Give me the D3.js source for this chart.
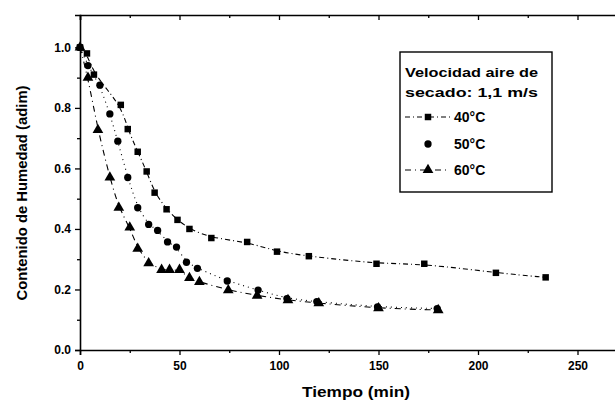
<!DOCTYPE html>
<html><head><meta charset="utf-8">
<script src="https://cdn.jsdelivr.net/npm/d3@7"></script>
<style>
html,body{margin:0;padding:0;background:#fff;}
svg{display:block;font-family:"Liberation Sans",Arial,sans-serif;}
</style></head>
<body>
<script>
// ---- data ----
const t40 = [0, 3.5, 7, 20.5, 24, 29, 33.5, 37.5, 43.5, 49, 55, 66, 84, 99, 115, 149, 173, 209, 234];
const v40 = [1.0, 0.98, 0.91, 0.81, 0.73, 0.655, 0.59, 0.52, 0.465, 0.43, 0.40, 0.37, 0.357, 0.325, 0.31, 0.285, 0.285, 0.255, 0.24];
const t50 = [0, 4, 10, 15, 19, 24, 29, 34.5, 39, 44, 48.5, 53.5, 59, 74, 89.5, 104, 119, 149.5, 179.5];
const v50 = [1.0, 0.94, 0.875, 0.78, 0.69, 0.57, 0.47, 0.415, 0.395, 0.357, 0.34, 0.29, 0.27, 0.228, 0.198, 0.17, 0.16, 0.142, 0.137];
const t60 = [0, 4, 9, 15, 19.5, 25, 29, 34.5, 41, 45, 50, 55, 60, 74.5, 89, 104.5, 120, 150, 180];
const v60 = [1.0, 0.90, 0.727, 0.57, 0.47, 0.405, 0.335, 0.287, 0.265, 0.265, 0.265, 0.238, 0.225, 0.198, 0.18, 0.165, 0.155, 0.138, 0.132];
const seriesNames = ["40°C", "50°C", "60°C"];
const xTicks = [0, 50, 100, 150, 200, 250];
const yTicks = [0.0, 0.2, 0.4, 0.6, 0.8, 1.0];
const xLabel = "Tiempo (min)";
const yLabel = "Contenido de Humedad (adim)";
const legendTitle = ["Velocidad aire de", "secado: 1,1 m/s"];

const W = 615, H = 403;
const svg = d3.select("body").append("svg").attr("width", W).attr("height", H);

const x = d3.scaleLinear().domain([0, 275]).range([80, 80 + 275 * 1.99]);
const y = d3.scaleLinear().domain([0, 1.107]).range([350, 15]);

const series = [
  {name: seriesNames[0], t: t40, v: v40, sym: d3.symbolSquare, size: 42, dash: "5,3,1,3"},
  {name: seriesNames[1], t: t50, v: v50, sym: d3.symbolCircle, size: 42, dash: "1,4"},
  {name: seriesNames[2], t: t60, v: v60, sym: d3.symbolTriangle, size: 50, dash: "6,4,1,4"}
];

// axes
const ax = svg.append("g").attr("stroke", "#000").attr("fill", "none");
// bottom axis
const bottom = svg.append("g").attr("transform", "translate(0,350)")
  .call(d3.axisBottom(x).tickValues(xTicks).tickSize(5).tickPadding(6).tickFormat(d3.format("d")));
svg.append("g").attr("transform", "translate(0,350)")
  .call(d3.axisBottom(x).tickValues([25, 75, 125, 175, 225, 275]).tickSize(3).tickFormat(""))
  .select(".domain").remove();
// top axis (ticks inward)
svg.append("g").attr("transform", "translate(0,15)")
  .call(d3.axisTop(x).tickValues(xTicks).tickSize(-5).tickFormat(""));
svg.append("g").attr("transform", "translate(0,15)")
  .call(d3.axisTop(x).tickValues([25, 75, 125, 175, 225, 275]).tickSize(-3).tickFormat(""))
  .select(".domain").remove();
// left axis
svg.append("g").attr("transform", "translate(80,0)")
  .call(d3.axisLeft(y).tickValues(yTicks).tickSize(5).tickPadding(4).tickFormat(d3.format(".1f")));
svg.append("g").attr("transform", "translate(80,0)")
  .call(d3.axisLeft(y).tickValues([0.1, 0.3, 0.5, 0.7, 0.9]).tickSize(3).tickFormat(""))
  .select(".domain").remove();

svg.selectAll(".domain").attr("stroke-width", 1.6).attr("d", function(){ return d3.select(this).attr("d").replace(/V-?\d+(\.\d+)?/g, m => m); });
svg.selectAll(".tick line").attr("stroke-width", 1.3);
svg.selectAll(".tick text").attr("font-size", 12).attr("font-weight", "bold").attr("fill", "#000")
  .attr("font-family", "'Liberation Sans Narrow','Liberation Sans',Arial,sans-serif");

// lines
const line = d3.line().x(d => x(d[0])).y(d => y(d[1])).curve(d3.curveBasis);
series.forEach(s => {
  const pts = s.t.map((t, i) => [t, s.v[i]]);
  svg.append("path").datum(pts).attr("d", line)
    .attr("fill", "none").attr("stroke", "#000").attr("stroke-width", 1.1)
    .attr("stroke-dasharray", s.dash);
});
// markers
series.forEach(s => {
  svg.append("g").selectAll("path").data(s.t.map((t, i) => [t, s.v[i]])).join("path")
    .attr("transform", d => `translate(${x(d[0])},${y(d[1])})`)
    .attr("d", d3.symbol().type(s.sym).size(s.size))
    .attr("fill", "#000");
});

// axis titles
svg.append("text").attr("x", 356).attr("y", 397).attr("text-anchor", "middle")
  .attr("font-size", 15).attr("font-weight", "bold").attr("textLength", 108).attr("lengthAdjust", "spacingAndGlyphs")
  .text(xLabel);
svg.append("text").attr("transform", "translate(27,193) rotate(-90)").attr("text-anchor", "middle")
  .attr("font-size", 14).attr("font-weight", "bold").attr("textLength", 215).attr("lengthAdjust", "spacingAndGlyphs")
  .text(yLabel);

// legend
const lg = svg.append("g");
lg.append("rect").attr("x", 400).attr("y", 52).attr("width", 152).attr("height", 140)
  .attr("fill", "#fff").attr("stroke", "#000").attr("stroke-width", 1.4);
legendTitle.forEach((tx, i) => {
  lg.append("text").attr("x", 405).attr("y", 77 + i * 20).attr("font-size", 13.5).attr("font-weight", "bold")
    .attr("textLength", 133).attr("lengthAdjust", "spacingAndGlyphs").text(tx);
});
const rowY = [117, 144, 170];
series.forEach((s, i) => {
  if (i !== 1) {
    lg.append("line").attr("x1", 405).attr("x2", 450).attr("y1", rowY[i]).attr("y2", rowY[i])
      .attr("stroke", "#000").attr("stroke-width", 1.1).attr("stroke-dasharray", s.dash);
  }
  lg.append("path").attr("transform", `translate(428,${rowY[i]})`)
    .attr("d", d3.symbol().type(s.sym).size(s.size)).attr("fill", "#000");
  lg.append("text").attr("x", 454).attr("y", rowY[i] + 5).attr("font-size", 14).attr("font-weight", "bold")
    .text(s.name);
});
</script>
</body></html>
